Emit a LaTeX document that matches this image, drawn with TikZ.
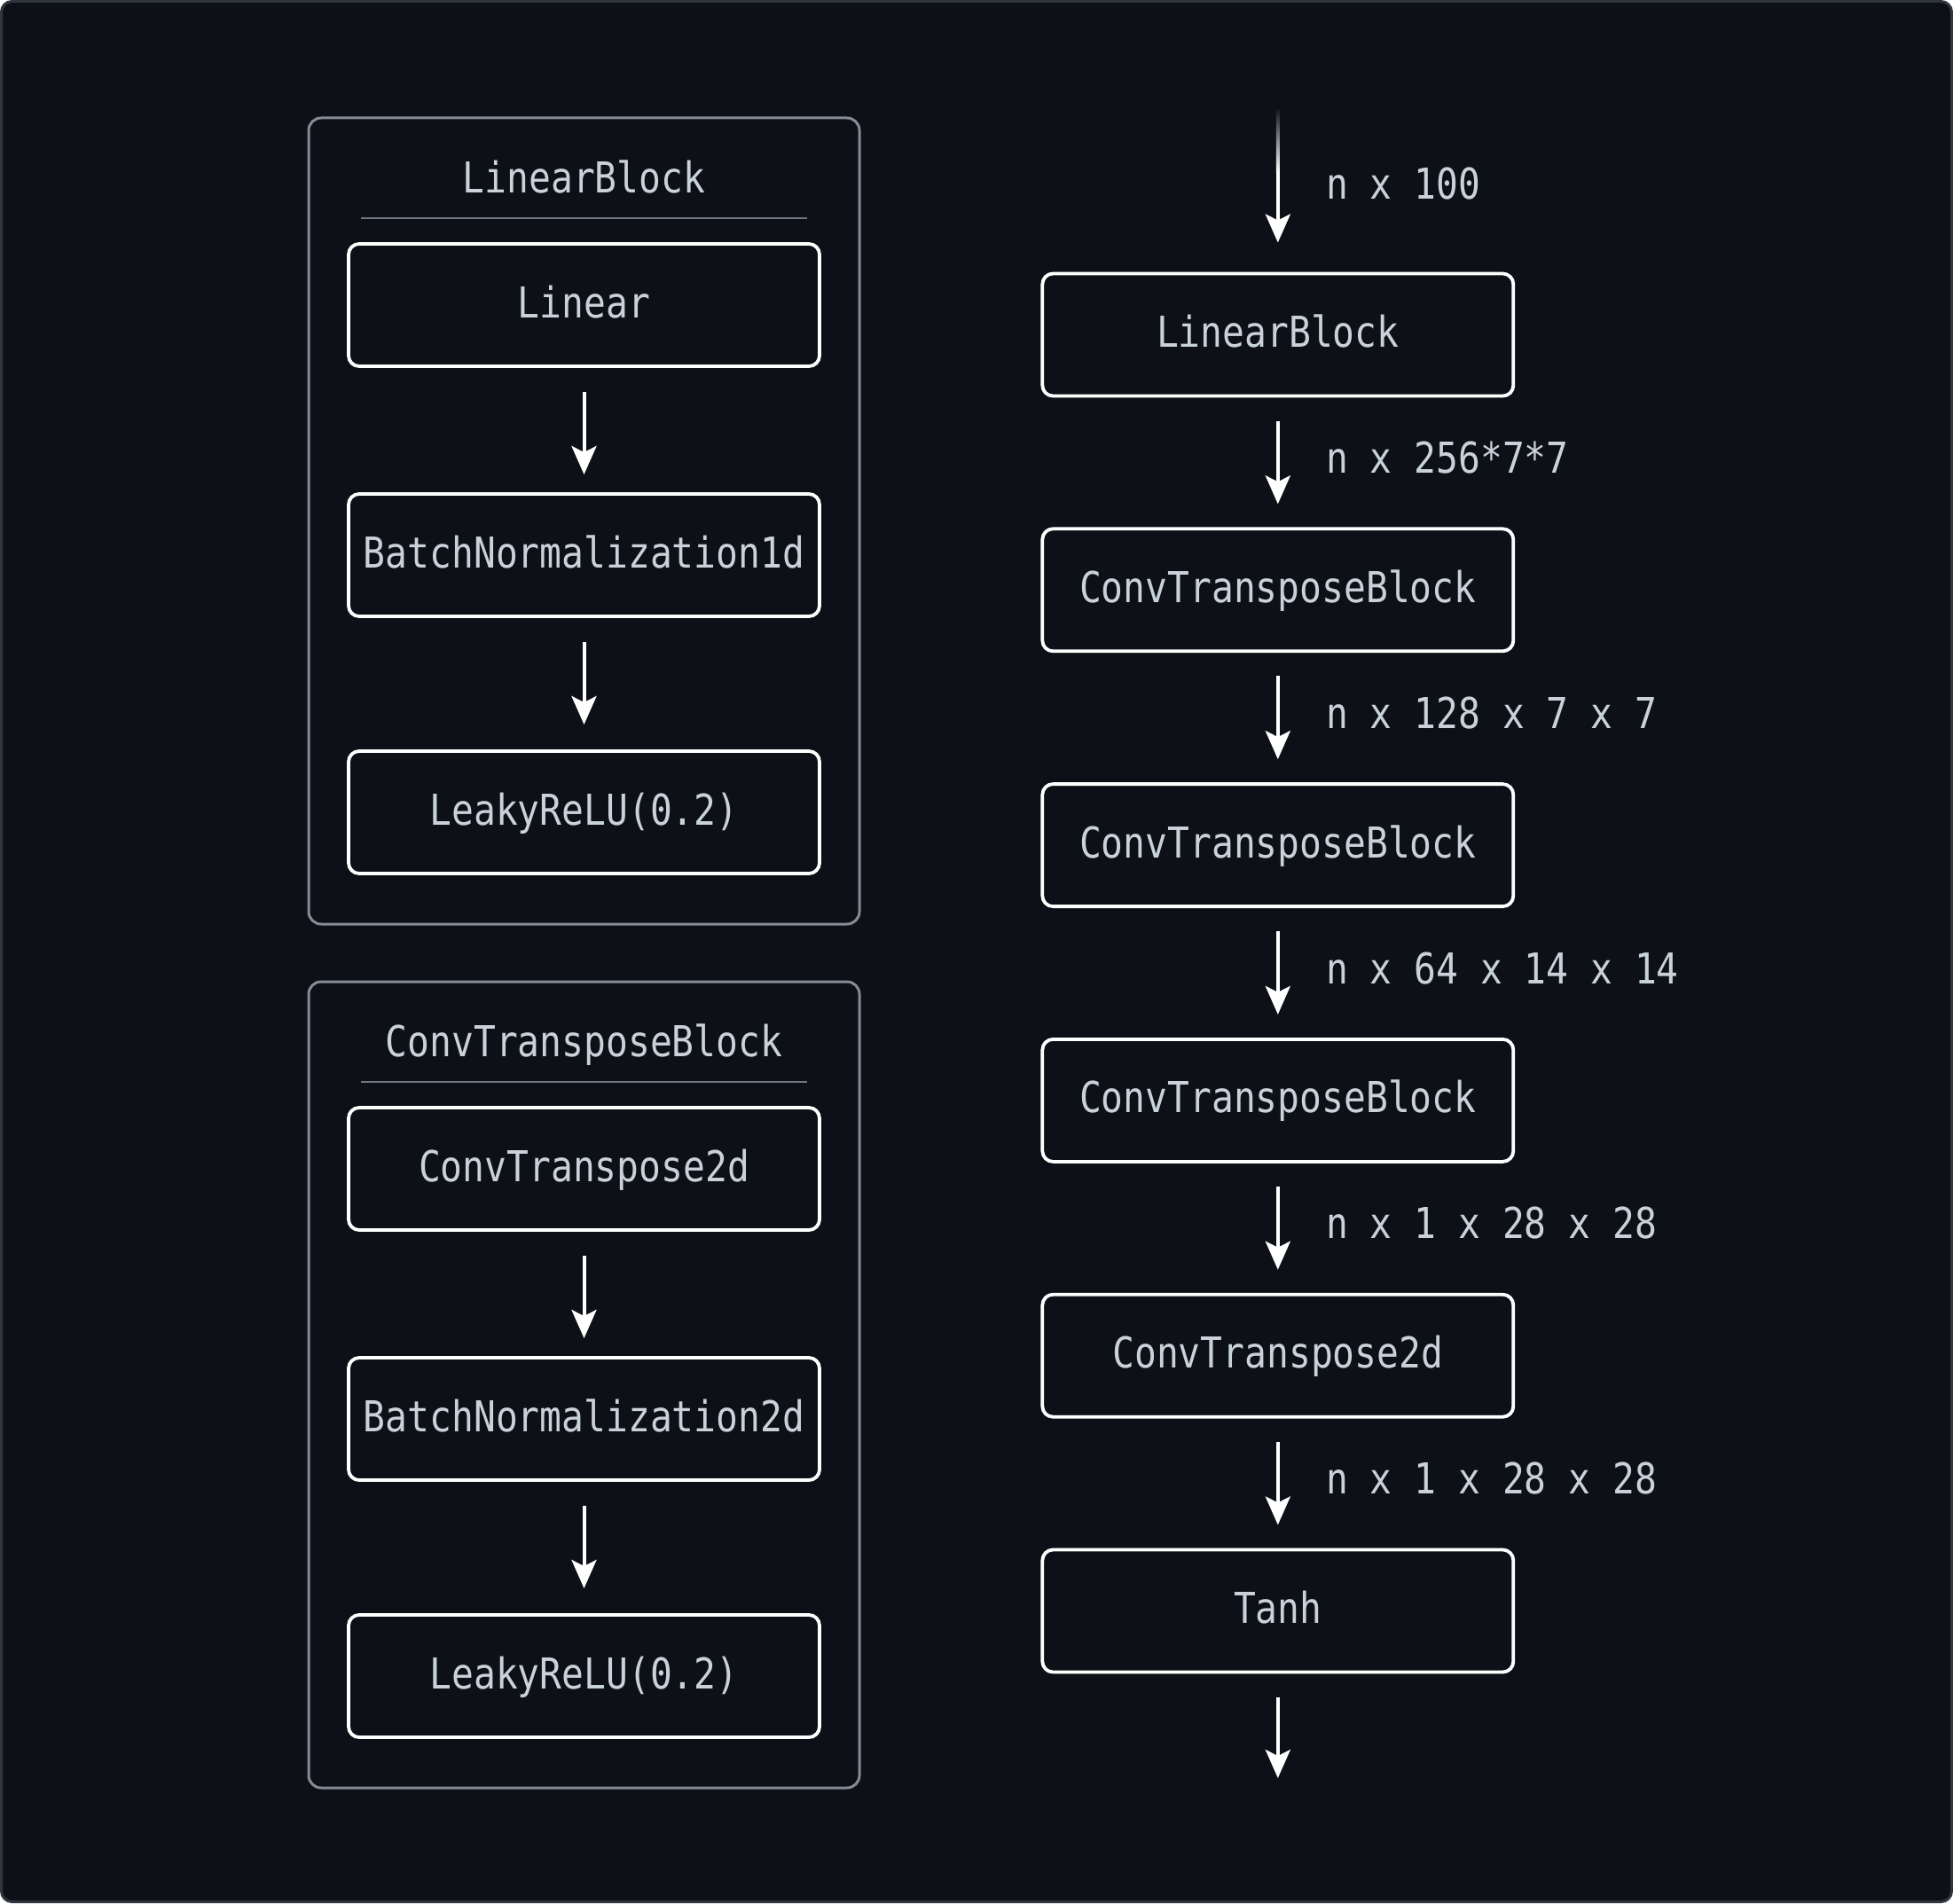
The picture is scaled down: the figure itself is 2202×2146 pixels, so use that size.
\documentclass[tikz,border=0pt]{standalone}
\usepackage{fontspec}
\newfontfamily\monofont[FakeStretch=0.86]{DejaVu Sans Mono}
\usetikzlibrary{arrows.meta}
\definecolor{bg}{HTML}{0D1117}
\definecolor{txt}{HTML}{C9D1D9}
\definecolor{panelgray}{HTML}{848B94}
\definecolor{sepgray}{HTML}{6E7681}
\definecolor{framegray}{HTML}{30363D}
\begin{document}
\begin{tikzpicture}[x=1pt,y=-1pt,
  every node/.style={font=\monofont\fontsize{48}{58}\selectfont, text=txt},
  blockbox/.style={draw=white, line width=3.8pt, fill=bg, rounded corners=12pt,
    minimum width=531pt, minimum height=138pt, outer sep=0pt, inner sep=0pt,
    text height=35pt, text depth=7pt},
  panelbox/.style={draw=panelgray, line width=3pt, rounded corners=14pt,
    minimum width=621pt, minimum height=909pt, outer sep=0pt, inner sep=0pt},
  titletext/.style={anchor=base, inner sep=0pt},
  shapelabel/.style={anchor=base west, inner sep=0pt},
  sepline/.style={draw=sepgray, line width=2pt},
  flow/.style={draw=white, line width=4pt, -{Stealth[length=32pt,width=28pt,inset=7pt]}},
]
\useasboundingbox (0,0) rectangle (2202,2146);
\fill[white] (0,0) rectangle (2202,2146);
\draw[fill=bg, draw=framegray, line width=3pt, rounded corners=12pt] (1.5,1.5) rectangle (2200.5,2144.5);

% ---- Left panel 1: LinearBlock ----
\node[panelbox] (p1) at (658.5,587.5) {};
\node[titletext] (p1t) at (658.5,217) {LinearBlock};
\coordinate (p1sa) at (407,246);
\coordinate (p1sb) at (910,246);
\draw[sepline] (p1sa) -- (p1sb);
\node[blockbox] (lin) at (658.5,344) {Linear};
\node[blockbox] (bn1) at (658.5,626) {BatchNormalization1d};
\node[blockbox] (lr1) at (658.5,916) {LeakyReLU(0.2)};
\draw[flow, shorten <=29pt, shorten >=22pt] (lin.south) -- (bn1.north);
\draw[flow, shorten <=29pt, shorten >=30pt] (bn1.south) -- (lr1.north);

% ---- Left panel 2: ConvTransposeBlock ----
\node[panelbox] (p2) at (658.5,1561.5) {};
\node[titletext] (p2t) at (658.5,1191) {ConvTransposeBlock};
\coordinate (p2sa) at (407,1220);
\coordinate (p2sb) at (910,1220);
\draw[sepline] (p2sa) -- (p2sb);
\node[blockbox] (ct) at (658.5,1318) {ConvTranspose2d};
\node[blockbox] (bn2) at (658.5,1600) {BatchNormalization2d};
\node[blockbox] (lr2) at (658.5,1890) {LeakyReLU(0.2)};
\draw[flow, shorten <=29pt, shorten >=22pt] (ct.south) -- (bn2.north);
\draw[flow, shorten <=29pt, shorten >=30pt] (bn2.south) -- (lr2.north);

% ---- Right column ----
\node[blockbox] (r1) at (1440.8,377.5) {LinearBlock};
\node[blockbox] (r2) at (1440.8,665.3) {ConvTransposeBlock};
\node[blockbox] (r3) at (1440.8,953.1) {ConvTransposeBlock};
\node[blockbox] (r4) at (1440.8,1240.9) {ConvTransposeBlock};
\node[blockbox] (r5) at (1440.8,1528.7) {ConvTranspose2d};
\node[blockbox] (r6) at (1440.8,1816.5) {Tanh};

\coordinate (in) at (1440.8,123);
\coordinate (out) at (1440.8,2005);
\draw[flow, shorten >=35pt] (in) -- (r1.north);
\shade[top color=bg, bottom color=white] (1438.8,121) rectangle (1442.8,195);
\draw[flow, shorten <=28pt, shorten >=28pt] (r1.south) -- (r2.north);
\draw[flow, shorten <=28pt, shorten >=28pt] (r2.south) -- (r3.north);
\draw[flow, shorten <=28pt, shorten >=28pt] (r3.south) -- (r4.north);
\draw[flow, shorten <=28pt, shorten >=28pt] (r4.south) -- (r5.north);
\draw[flow, shorten <=28pt, shorten >=28pt] (r5.south) -- (r6.north);
\draw[flow, shorten <=28pt] (r6.south) -- (out);

\node[shapelabel] (l1) at (1495,224) {n x 100};
\node[shapelabel] (l2) at (1495,533) {n x 256*7*7};
\node[shapelabel] (l3) at (1495,821) {n x 128 x 7 x 7};
\node[shapelabel] (l4) at (1495,1109) {n x 64 x 14 x 14};
\node[shapelabel] (l5) at (1495,1396) {n x 1 x 28 x 28};
\node[shapelabel] (l6) at (1495,1684) {n x 1 x 28 x 28};
\end{tikzpicture}
\end{document}
